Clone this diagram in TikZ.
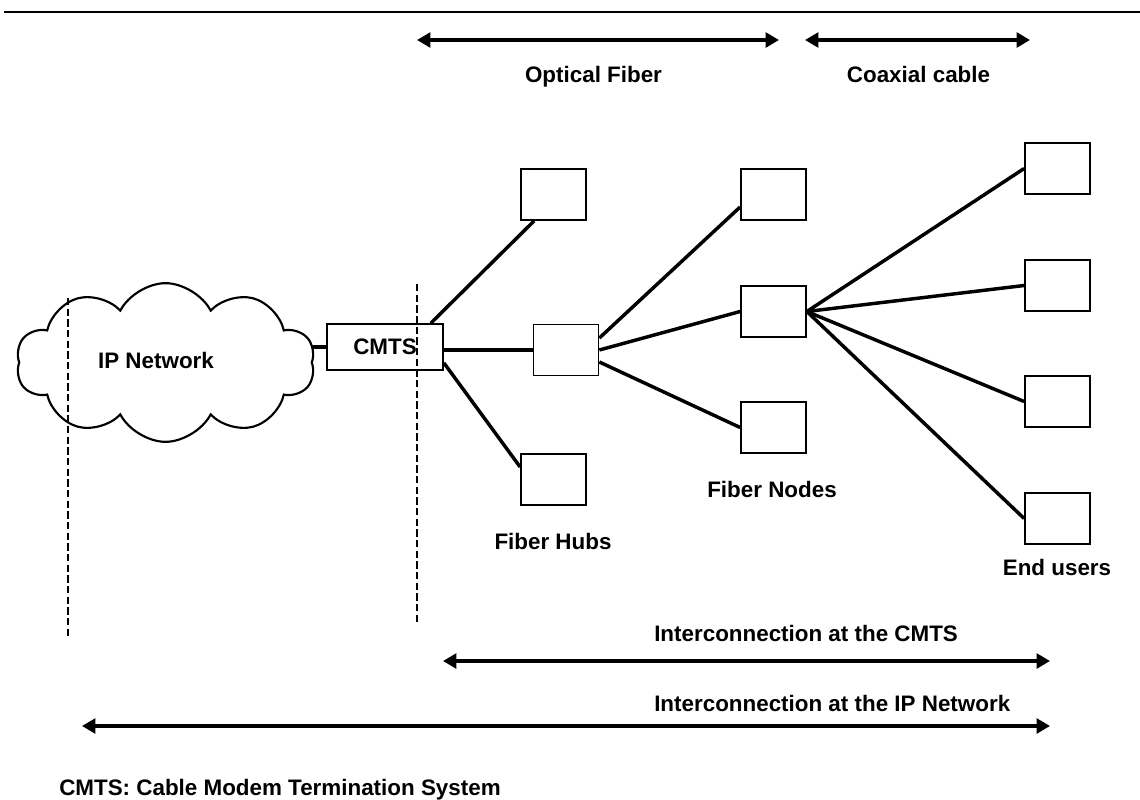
\documentclass[tikz,border=0pt]{standalone}
\usepackage{fontspec}
\setmainfont{Liberation Sans}
\usetikzlibrary{arrows.meta,shapes.symbols}
\begin{document}
\begin{tikzpicture}[x=0.75pt,y=-0.75pt,
  every node/.style={font=\fontsize{16.8}{20}\selectfont\bfseries},
  box/.style={draw,line width=1.3pt,minimum width=48.75pt,minimum height=38.25pt,inner sep=0pt},
  link/.style={line width=2.6pt},
  divider/.style={line width=2pt,dash pattern=on 5.5pt off 2.5pt},
  span/.style={line width=3.6pt,{Triangle[length=10pt,width=11pt]}-{Triangle[length=10pt,width=11pt]}},
  lbl/.style={inner sep=0pt,anchor=base}]
\path[fill=white,use as bounding box] (0,0) rectangle (1140,800);
% top rule
\coordinate (ruleL) at (4,12);
\coordinate (ruleR) at (1140,12);
\draw[line width=2.2pt] (ruleL) -- (ruleR);
% top spans
\coordinate (ofL) at (417,40);
\coordinate (ofR) at (779,40);
\coordinate (cxL) at (805,40);
\coordinate (cxR) at (1030,40);
\draw[span] (ofL) -- (ofR);
\draw[span] (cxL) -- (cxR);
\node[lbl] (oflbl) at (593.5,82) {Optical Fiber};
\node[lbl] (cxlbl) at (918.5,82) {Coaxial cable};
% cloud
\node[cloud,draw,line width=1.6pt,cloud puffs=10,cloud puff arc=125,aspect=1.88,
      minimum width=224pt,minimum height=119pt,inner sep=0pt] (cloud) at (165.5,362.5) {};
\node[lbl] (iplbl) at (156,368) {IP Network};
% CMTS
\node[box,minimum width=87pt,minimum height=34.5pt] (cmts) at (385,347) {CMTS};
% hubs
\node[box] (hubA) at (553.5,194.5) {};
\node[box] (hubB) at (566,350) {};
\node[box] (hubC) at (553.5,479.5) {};
% fiber nodes
\node[box] (fnA) at (773.5,194.5) {};
\node[box] (fnB) at (773.5,311.5) {};
\node[box] (fnC) at (773.5,427.5) {};
% end users
\node[box] (eu1) at (1057.5,168.5) {};
\node[box] (eu2) at (1057.5,285.5) {};
\node[box] (eu3) at (1057.5,401.5) {};
\node[box] (eu4) at (1057.5,518.5) {};
% labels
\node[lbl] (hubslbl) at (553,549) {Fiber Hubs};
\node[lbl] (fnlbl) at (772,497) {Fiber Nodes};
\node[lbl] (eulbl) at (1057,575) {End users};
% connectors
\draw[link] (cloud.east |- cmts.west) -- (cmts.west);
\draw[link] ([xshift=-9.75pt]cmts.north east) -- ([xshift=10.5pt]hubA.south west);
\draw[link] (hubB.west -| cmts.east) -- (hubB.west);
\draw[link] ([yshift=6pt]cmts.south east) -- ([yshift=9.375pt]hubC.west);
\draw[link] ([yshift=9pt]hubB.east) -- ([yshift=-9.375pt]fnA.west);
\draw[link] (hubB.east) -- (fnB.west);
\draw[link] ([yshift=-9pt]hubB.east) -- (fnC.west);
\draw[link] (fnB.east) -- (eu1.west);
\draw[link] (fnB.east) -- (eu2.west);
\draw[link] (fnB.east) -- (eu3.west);
\draw[link] (fnB.east) -- (eu4.west);
% dashed dividers
\coordinate (d1t) at (68,298);
\coordinate (d1b) at (68,636);
\coordinate (d2t) at (417,284);
\coordinate (d2b) at (417,623);
\draw[divider] (d1t) -- (d1b);
\draw[divider] (d2t) -- (d2b);
% bottom spans
\coordinate (icL) at (443,661);
\coordinate (icR) at (1050,661);
\coordinate (ipL) at (82,726);
\coordinate (ipR) at (1050,726);
\draw[span] (icL) -- (icR);
\draw[span] (ipL) -- (ipR);
\node[lbl,anchor=base west] (iclbl) at (654,641) {Interconnection at the CMTS};
\node[lbl,anchor=base west] (iplbl2) at (654,711) {Interconnection at the IP Network};
\node[lbl,anchor=base west] (footer) at (59,795) {CMTS: Cable Modem Termination System};
\end{tikzpicture}
\end{document}
